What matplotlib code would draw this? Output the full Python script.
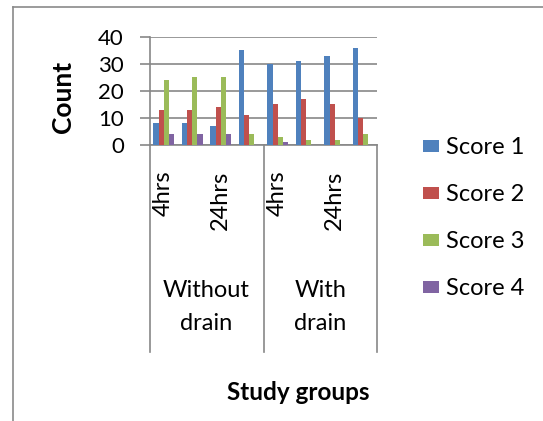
import matplotlib
matplotlib.use("Agg")
import matplotlib.pyplot as plt
import numpy as np
from matplotlib.lines import Line2D
from matplotlib.patches import Patch

plt.rcParams['font.family'] = ['Lato', 'DejaVu Sans']

groups = ["Without\ndrain", "With\ndrain"]
times = ["4hrs", "", "24hrs", ""]
series = ["Score 1", "Score 2", "Score 3", "Score 4"]
colors = ["#4F81BD", "#C0504D", "#9BBB59", "#8064A2"]

score1 = [8, 8, 7, 35, 30, 31, 33, 36]
score2 = [13, 13, 14, 11, 15, 17, 15, 10]
score3 = [24, 25, 25, 4, 3, 2, 2, 4]
score4 = [4, 4, 4, 0, 1, 0, 0, 0]
values = [score1, score2, score3, score4]

W, H = 543, 421
fig = plt.figure(figsize=(W / 100, H / 100), dpi=100)

# plot area in pixels
L, R, T, B = 149.5, 377.5, 36.7, 145.0
ax = fig.add_axes([L / W, 1 - B / H, (R - L) / W, (B - T) / H])
ph = B - T


def below(px):
    # pixel row -> axes fraction (negative below the x axis)
    return -(px - B) / ph


n = len(score1)
x = np.arange(n)
bw = 1 / 5.5  # gap width 150%
for i, (vals, c) in enumerate(zip(values, colors)):
    ax.bar(x + (i - 1.5) * bw, vals, width=bw, color=c, zorder=3)

grid_c = "#878787"
ax.set_xlim(-0.5, n - 0.5)
ax.set_ylim(0, 40)
ax.set_yticks([0, 10, 20, 30, 40])
ax.yaxis.grid(True, color=grid_c, linewidth=1.2, zorder=0)
ax.tick_params(axis='y', length=7, width=1.2, color=grid_c, pad=11.5,
               labelsize=16, direction='out')
ax.set_xticks([])
for s in ['top', 'right']:
    ax.spines[s].set_visible(False)
for s in ['left', 'bottom']:
    ax.spines[s].set_color(grid_c)
    ax.spines[s].set_linewidth(1.2)

# two-level category axis
trans = ax.get_xaxis_transform()
for xb in [-0.5, 3.5, 7.5]:
    ax.plot([xb, xb], [0, below(352)], transform=trans, color=grid_c,
            linewidth=1.2, clip_on=False)

per = len(times)
for g, gname in enumerate(groups):
    for t, tname in enumerate(times):
        if tname:
            ax.text(g * per + t, below(170.5), tname, transform=trans,
                    rotation=90, ha='center', va='top', fontsize=17)
    for k, line in enumerate(gname.split("\n")):
        ax.text(g * per + (per - 1) / 2, below(297 + 33 * k), line,
                transform=trans, ha='center', va='baseline', fontsize=17)

fig.text(63 / W, 1 - 96.5 / H, "Count", rotation=90, ha='center',
         va='center', fontsize=19, fontweight='bold')
fig.text(298 / W, 1 - 399.5 / H, "Study groups", ha='center',
         va='baseline', fontsize=17.5, fontweight='bold')

handles = [Patch(facecolor=c, label=s) for c, s in zip(colors, series)]
fig.legend(handles=handles, loc='upper left',
           bbox_to_anchor=(414 / W, 1 - 128 / H), frameon=False,
           fontsize=17, handlelength=0.65, handleheight=0.45,
           handletextpad=0.3, labelspacing=1.1, borderaxespad=0)

# chart area border
fig.add_artist(Line2D([12.5 / W, 12.5 / W], [0, 1 - 7.3 / H], color="#8a8a8a",
                      linewidth=1.2, transform=fig.transFigure))
fig.add_artist(Line2D([12.5 / W, 1], [1 - 7.3 / H, 1 - 7.3 / H],
                      color="#8a8a8a", linewidth=1.2,
                      transform=fig.transFigure))

fig.savefig("out.png", dpi=100, facecolor='white')
